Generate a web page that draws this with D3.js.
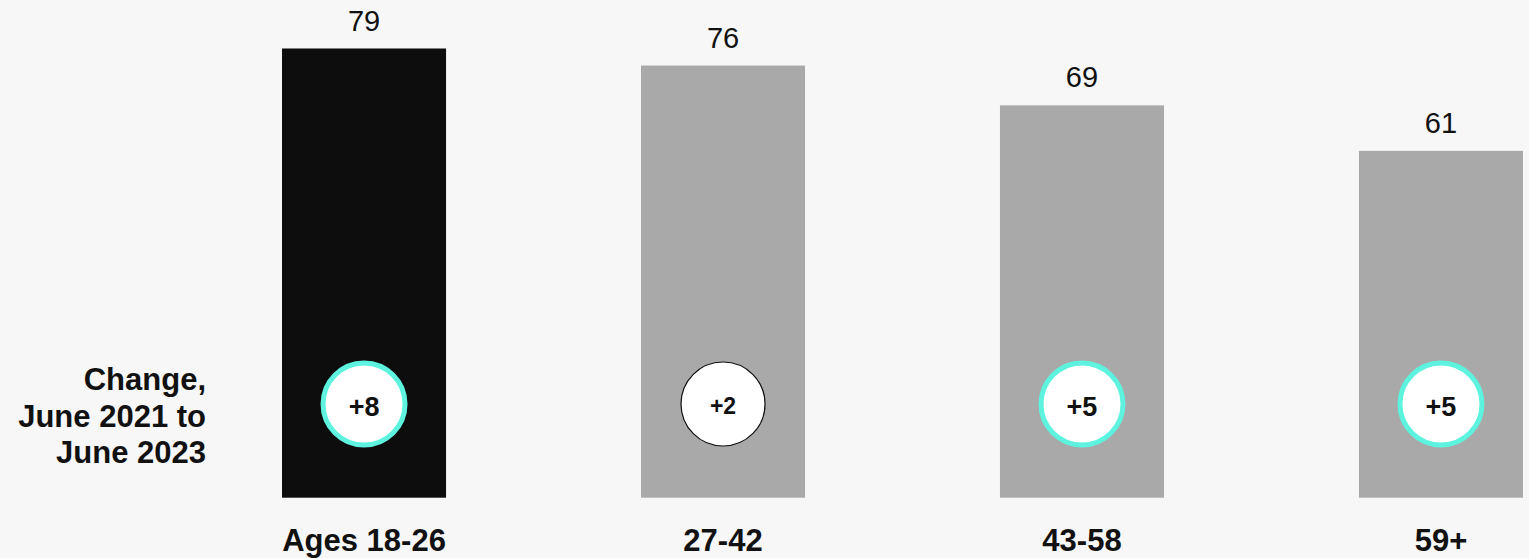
<!DOCTYPE html>
<html>
<head>
<meta charset="utf-8">
<script src="https://cdn.jsdelivr.net/npm/d3@7"></script>
<style>
  html, body { margin: 0; padding: 0; background: #f7f7f7; }
  svg { display: block; font-family: "Liberation Sans", Arial, sans-serif; }
</style>
</head>
<body>
<svg id="chart" width="1529" height="558"></svg>
<script>
// Share by age group, with change since June 2021
const categories = ["Ages 18-26", "27-42", "43-58", "59+"];
const values = [79, 76, 69, 61];
const changes = [8, 2, 5, 5];
const significant = [true, false, true, true];
const sideLabel = ["Change,", "June 2021 to", "June 2023"];

const W = 1529, H = 558;
const svg = d3.select("#chart");

svg.append("rect").attr("width", W).attr("height", H).attr("fill", "#f7f7f7");

const x = d3.scaleBand()
  .domain(categories)
  .range([282, 1523])
  .paddingInner(0.543)
  .paddingOuter(0);

const y = d3.scaleLinear()
  .domain([0, 79])
  .range([497.7, 48.5]);

const data = categories.map((c, i) => ({
  cat: c, value: values[i], change: changes[i], sig: significant[i], first: i === 0
}));

// bars
svg.append("g").selectAll("rect")
  .data(data)
  .join("rect")
  .attr("x", d => x(d.cat))
  .attr("y", d => y(d.value))
  .attr("width", x.bandwidth())
  .attr("height", d => y(0) - y(d.value))
  .attr("fill", d => d.first ? "#0d0d0d" : "#a9a9a9");

// value labels
svg.append("g").selectAll("text")
  .data(data)
  .join("text")
  .attr("x", d => x(d.cat) + x.bandwidth() / 2)
  .attr("y", d => y(d.value) - 18)
  .attr("text-anchor", "middle")
  .attr("font-size", 29)
  .attr("fill", "#111")
  .text(d => d.value);

// change bubbles
const cy = 404;
const bubbles = svg.append("g").selectAll("g")
  .data(data)
  .join("g")
  .attr("transform", d => `translate(${x(d.cat) + x.bandwidth() / 2},${cy})`);

bubbles.append("circle")
  .attr("r", d => d.sig ? 41 : 42)
  .attr("fill", "#ffffff")
  .attr("stroke", d => d.sig ? "#5ef3de" : "#111")
  .attr("stroke-width", d => d.sig ? 5 : 1.2);

bubbles.append("text")
  .attr("text-anchor", "middle")
  .attr("y", d => d.sig ? 12 : 10)
  .attr("font-weight", "bold")
  .attr("font-size", d => d.sig ? 27 : 23)
  .attr("fill", "#111")
  .text(d => (d.change > 0 ? "+" : "") + d.change);

// category axis labels
const xAxis = d3.axisBottom(x).tickSize(0).tickPadding(0);
const axisG = svg.append("g")
  .attr("transform", `translate(0,${y(0)})`)
  .call(xAxis);
axisG.select(".domain").remove();
axisG.selectAll("text")
  .attr("y", 53)
  .attr("dy", null)
  .attr("font-family", "Liberation Sans, Arial, sans-serif")
  .attr("font-size", 31)
  .attr("font-weight", "bold")
  .attr("fill", "#111");

// row label for the change bubbles
svg.append("g").selectAll("text")
  .data(sideLabel)
  .join("text")
  .attr("x", 206)
  .attr("y", (d, i) => 390 + i * 36.5)
  .attr("text-anchor", "end")
  .attr("font-size", 31)
  .attr("font-weight", "bold")
  .attr("fill", "#111")
  .text(d => d);
</script>
</body>
</html>
